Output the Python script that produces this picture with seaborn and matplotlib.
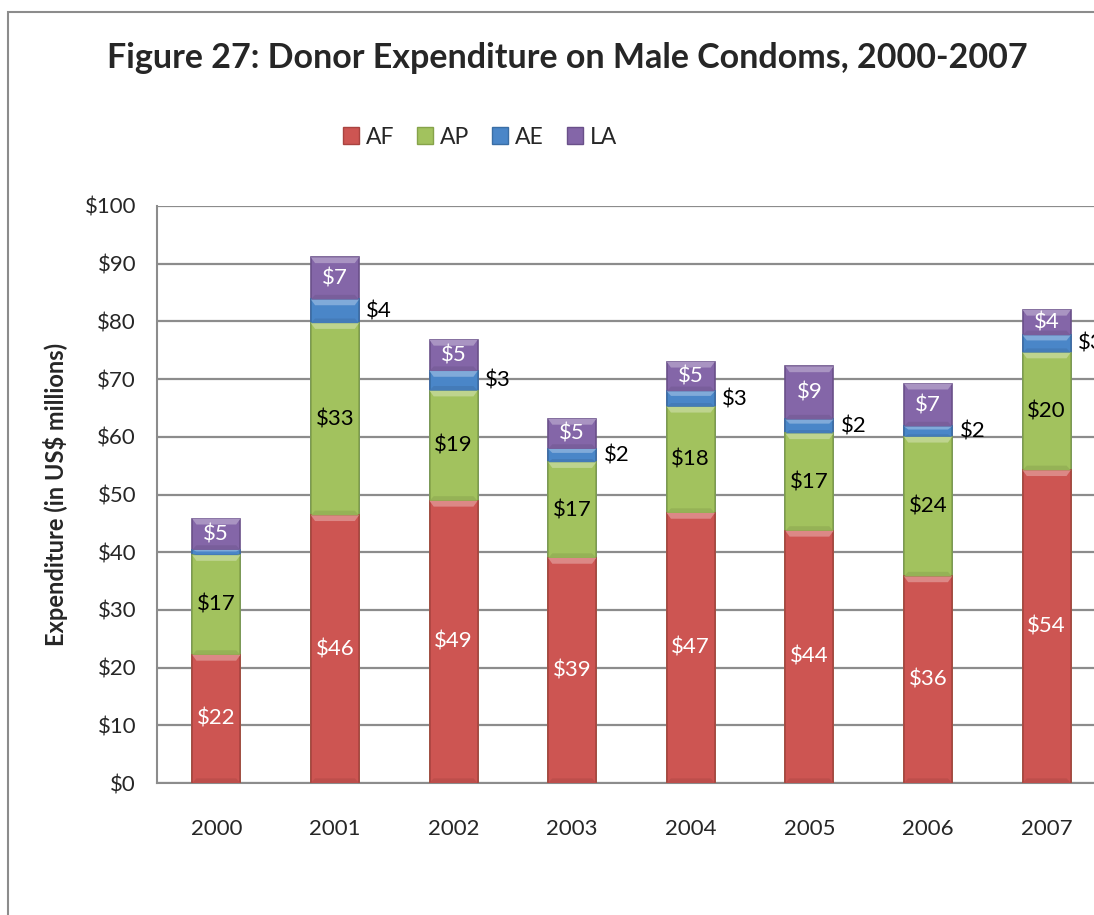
import numpy as np
import pandas as pd
import matplotlib
matplotlib.use("Agg")
import matplotlib.pyplot as plt
import seaborn as sns
from matplotlib.patches import Patch, Rectangle, Polygon
from matplotlib.colors import to_rgb

# 数据（单位：百万美元）
years = ["2000", "2001", "2002", "2003", "2004", "2005", "2006", "2007"]
af = [22.2, 46.4, 48.9, 39.0, 46.8, 43.7, 35.8, 54.2]
ap = [17.3, 33.3, 19.1, 16.6, 18.4, 16.9, 24.2, 20.4]
ae = [0.9, 4.1, 3.4, 2.3, 2.7, 2.4, 1.8, 3.0]
la = [5.4, 7.3, 5.4, 5.2, 5.1, 9.2, 7.4, 4.4]
series_names = ["AF", "AP", "AE", "LA"]
colors = ["#CD5552", "#A2C25E", "#4A86C8", "#8466A8"]
edges = ["#A94340", "#86A34A", "#3A6EA5", "#6A5089"]
label_colors = ["white", "black", "black", "white"]

df = pd.DataFrame({"year": years, "AF": af, "AP": ap, "AE": ae, "LA": la})
cum = df[series_names].cumsum(axis=1)

sns.set_style("white")
plt.rcParams["font.family"] = ["Lato", "DejaVu Sans"]

fig = plt.figure(figsize=(10.94, 9.15), dpi=100)
ax = fig.add_axes([157 / 1094, 1 - 783 / 915, (1106 - 157) / 1094, (783 - 206) / 915])

bar_w = 0.405
# 从最上层开始画累计值，下层覆盖上层 -> 堆叠效果
for name, c, ec in reversed(list(zip(series_names, colors, edges))):
    sns.barplot(x=df["year"], y=cum[name], color=c, width=bar_w, ax=ax,
                edgecolor=ec, linewidth=1.2, saturation=1, zorder=3)


def shade(c, f):
    r, g, b = to_rgb(c)
    if f > 0:
        return (r + (1 - r) * f, g + (1 - g) * f, b + (1 - b) * f)
    return (r * (1 + f), g * (1 + f), b * (1 + f))


# 斜面高光（模拟 Excel 的立体效果）
for i in range(len(years)):
    bottom = 0
    for name, c in zip(series_names, colors):
        v = df.loc[i, name]
        top = bottom + v
        h = min(1.0, 0.3 * v)
        x0, x1 = i - bar_w / 2, i + bar_w / 2
        inset = 0.035
        ax.add_patch(Polygon([(x0, top), (x1, top), (x1 - inset, top - h), (x0 + inset, top - h)],
                             closed=True, facecolor=shade(c, 0.3), edgecolor="none", zorder=4))
        ax.add_patch(Polygon([(x0, bottom), (x1, bottom), (x1 - inset, bottom + h * 0.8),
                              (x0 + inset, bottom + h * 0.8)],
                             closed=True, facecolor=shade(c, -0.08), edgecolor="none", zorder=4))
        bottom = top

# 数据标签
for i in range(len(years)):
    bottom = 0
    for name, lc in zip(series_names, label_colors):
        v = df.loc[i, name]
        mid = bottom + v / 2
        txt = f"${v:.0f}"
        if name == "AE":
            if v >= 1.5:
                ax.text(i + 0.265, mid, txt, ha="left", va="center", fontsize=16,
                        color=lc, zorder=5)
        else:
            ax.text(i, mid, txt, ha="center", va="center", fontsize=16,
                    color=lc, zorder=5)
        bottom += v

ax.set_xlim(-0.5, 7.5)
ax.set_ylim(0, 100)
ax.set_yticks(np.arange(0, 101, 10))
ax.set_yticklabels([f"${t}" for t in range(0, 101, 10)], fontsize=16)
ax.set_xticks(range(len(years)))
ax.set_xticklabels(years, fontsize=16)
ax.set_xticks(np.arange(-0.5, 8, 1), minor=True)
ax.tick_params(axis="x", which="major", length=0, pad=26)
ax.tick_params(axis="x", which="minor", length=9, width=1.2, color="#888888", direction="out")
ax.tick_params(axis="y", length=9, width=1.2, color="#888888", direction="out", pad=6)
ax.grid(axis="y", color="#8C8C8C", linewidth=1.6, zorder=0)
ax.set_axisbelow(True)
for s in ["top", "right"]:
    ax.spines[s].set_visible(False)
for s in ["left", "bottom"]:
    ax.spines[s].set_color("#8C8C8C")
    ax.spines[s].set_linewidth(1.5)
ax.set_xlabel("")
ax.set_ylabel("Expenditure (in US$ millions)", fontsize=17, fontweight="bold", labelpad=12)

fig.text(567 / 1094, 1 - 58 / 915, "Figure 27: Donor Expenditure on Male Condoms, 2000-2007",
         ha="center", va="center", fontsize=24.5, fontweight="bold")

handles = [Patch(facecolor=c, edgecolor=ec, label=n) for n, c, ec in zip(series_names, colors, edges)]
fig.legend(handles=handles, loc="center", bbox_to_anchor=(480 / 1094, 1 - 137 / 915), ncol=4,
           frameon=False, fontsize=16.5, handlelength=0.7, handleheight=0.7,
           handletextpad=0.3, columnspacing=1.0)

# 外框
fig.add_artist(Rectangle((8 / 1094, -0.1), 1.2, 1 - 12 / 915 + 0.1, transform=fig.transFigure,
                         fill=False, edgecolor="#8C8C8C", linewidth=1.5))

fig.savefig("out.png", dpi=100)
